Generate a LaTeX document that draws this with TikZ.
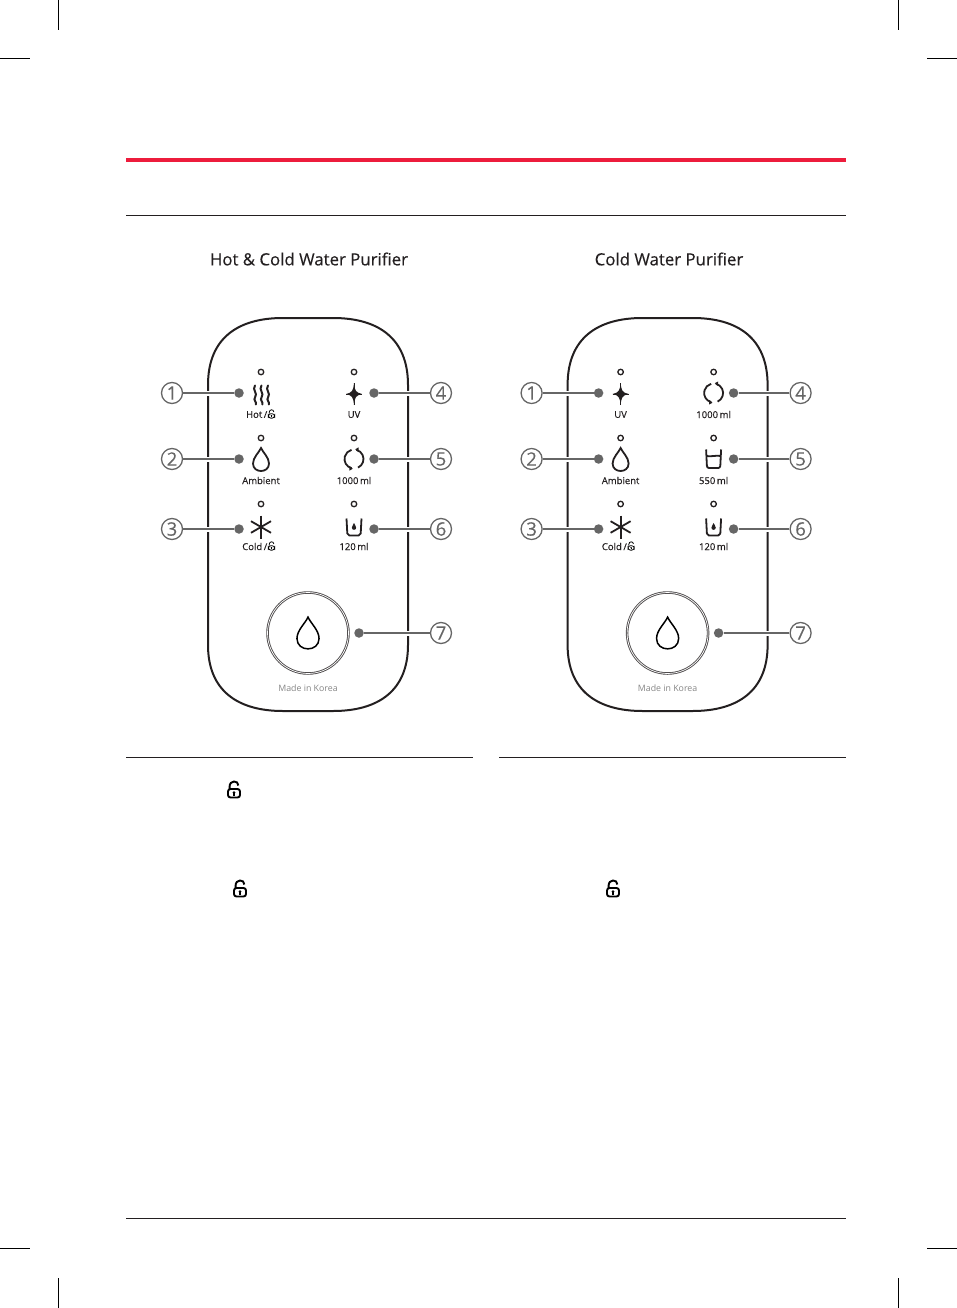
\documentclass[tikz,border=0pt]{standalone}
\usepackage{fontspec}
\setmainfont{Open Sans}
\newfontfamily\heavyfont[FakeBold=0.3]{Open Sans}
\usepackage{xcolor}
\definecolor{inkdark}{HTML}{231F20}
\definecolor{inkgray}{HTML}{666666}
\definecolor{brandred}{HTML}{ED1C3C}
\usetikzlibrary{positioning}

\tikzset{
    pics/dropicon/.style={code={
        \draw (0,-11.5) .. controls (-2,-7) and (-8,-2) .. (-8,4) .. controls (-8,9) and (-4,11.5) .. (0,11.5)
            .. controls (4,11.5) and (8,9) .. (8,4) .. controls (8,-2) and (2,-7) .. (0,-11.5) -- cycle;
    }},
    pics/waveicon/.style={code={
        \foreach \k in {-6.5,0,6.5} {
            \draw[line cap=round] (\k,-9.5) .. controls (\k-3.4,-5) and (\k+3.4,-2) .. (\k,2.5)
                .. controls (\k-2.2,5) and (\k+2.2,7) .. (\k+.8,9.5);
        }
    }},
    pics/uvicon/.style={code={
        \fill (0,-11) .. controls (.8,-3.5) and (1.5,-1.5) .. (8,0) .. controls (1.5,1.5) and (.8,3.5) .. (0,11)
            .. controls (-.8,3.5) and (-1.5,1.5) .. (-8,0) .. controls (-1.5,-1.5) and (-.8,-3.5) .. (0,-11) -- cycle;
        \draw[line width=.9] (0,-11) -- (0,11);
        \draw[line width=.9] (-8,0) -- (8,0);
    }},
    pics/cycleicon/.style={code={
        \draw (0,0) ++(105:9.5) arc[start angle=105, end angle=255, radius=9.5];
        \draw (0,0) ++(65:9.5) arc[start angle=65, end angle=-75, radius=9.5];
        \fill (1.2,-9.8) -- (4.6,-11.6) -- (4.6,-6.9) -- cycle;
        \fill (-1.2,9.8) -- (-4.6,11.6) -- (-4.6,6.9) -- cycle;
    }},
    pics/cupicon/.style={code={
        \draw[rounded corners=2] (-7.5,-9.5) -- (-6.6,9) -- (6.6,9) -- (7.5,-9.5);
        \draw (-7.2,-3) .. controls (-3,-2) and (3,-4) .. (7.2,-3);
    }},
    pics/glassicon/.style={code={
        \draw[rounded corners=2] (-7.5,-8.5) -- (-6.6,8.5) -- (6.6,8.5) -- (7.5,-8.5);
        \fill (0,-4) .. controls (-.6,-2) and (-2.2,-.8) .. (-2.2,.8) .. controls (-2.2,2.2) and (-1,2.8) .. (0,2.8)
            .. controls (1,2.8) and (2.2,2.2) .. (2.2,.8) .. controls (2.2,-.8) and (.6,-2) .. (0,-4) -- cycle;
    }},
    pics/snowicon/.style={code={
        \draw (0,-11.5) -- (0,11.5);
        \draw (-10,-5.8) -- (10,5.8);
        \draw (-10,5.8) -- (10,-5.8);
    }},
    pics/lockicon/.style={code={
        \draw[rounded corners=2.5] (-6,-1.5) rectangle (6,7);
        \draw (-4.4,-1.5) -- (-4.4,-4) .. controls (-4.4,-10.5) and (4.4,-10.5) .. (4.4,-5);
        \fill (0,2.2) circle (1.5);
        \fill (-.7,2.2) rectangle (.7,5);
    }}
}

% One panel outline with its rings, dots and lamps
\newcommand{\panelbase}{
    \draw[outline] (208,385) .. controls (208,338) and (238,318) .. (283,318) -- (333,318)
        .. controls (378,318) and (408,338) .. (408,385) -- (408,645)
        .. controls (408,691) and (378,711) .. (333,711) -- (283,711)
        .. controls (238,711) and (208,691) .. (208,645) -- cycle;

    \node[ring] (n1) at (172,393) {1};
    \node[ring] (n2) at (172,459) {2};
    \node[ring] (n3) at (172,529) {3};
    \node[ring] (n4) at (441,393) {4};
    \node[ring] (n5) at (441,459) {5};
    \node[ring] (n6) at (441,529) {6};
    \node[ring] (n7) at (441,633) {7};

    \node[dotmark] (d1) at (239,393) {};
    \node[dotmark] (d2) at (239,459) {};
    \node[dotmark] (d3) at (239,529) {};
    \node[dotmark] (d4) at (374,393) {};
    \node[dotmark] (d5) at (374,459) {};
    \node[dotmark] (d6) at (374,529) {};
    \node[dotmark] (d7) at (359,633) {};

    \draw[link] (n1) -- (d1);
    \draw[link] (n2) -- (d2);
    \draw[link] (n3) -- (d3);
    \draw[link] (n4) -- (d4);
    \draw[link] (n5) -- (d5);
    \draw[link] (n6) -- (d6);
    \draw[link] (n7) -- (d7);

    \node[lamp] (l1) at (261,372) {};
    \node[lamp] (l2) at (261,438) {};
    \node[lamp] (l3) at (261,504) {};
    \node[lamp] (l4) at (354,372) {};
    \node[lamp] (l5) at (354,438) {};
    \node[lamp] (l6) at (354,504) {};

    \node[button] (btn) at (308,633) {};
    \pic[scale=1.38, line width=1.5] at (308,633) {dropicon};
    \node[madein] (made) at (308,688) {Made in Korea};

    % Left column, same on both
    \pic[icon] at (261,459.5) {dropicon};
    \pic[icon] at (261,527) {snowicon};
    \node[tag] (t2) at (261,480.5) {Ambient};
    \node[tag, anchor=east] (t3) at (267.5,546.5) {Cold\,/};
    \pic[scale=.52, line width=.8] at (271.5,546.5) {lockicon};
}

\begin{document}
\begin{tikzpicture}[
    x=1pt, y=-1pt,
    rule/.style={draw=inkdark, line width=1},
    crop/.style={draw=black, line width=.8},
    outline/.style={draw=inkdark, line width=2},
    ring/.style={circle, draw=inkgray, line width=1.3, minimum size=21, inner sep=0, text=inkgray, font=\heavyfont\fontsize{18.5}{18}\selectfont},
    dotmark/.style={circle, fill=inkgray, minimum size=9.5, inner sep=0},
    link/.style={draw=inkgray, line width=1.5, preaction={draw=white, line width=5}},
    lamp/.style={circle, draw=inkdark, line width=1.3, minimum size=5.5, inner sep=0},
    button/.style={circle, draw=inkdark!80, line width=.9, double=white, double distance=.7, minimum size=81, inner sep=0},
    icon/.style={draw=inkdark, fill=inkdark, line width=1.8},
    tag/.style={text=inkdark, inner sep=0, font=\heavyfont\fontsize{9.5}{10}\selectfont},
    madein/.style={text=black!48, inner sep=0, font=\fontsize{8.8}{10}\selectfont},
    heading/.style={text=inkdark, inner sep=0, font=\heavyfont\fontsize{16.8}{18}\selectfont}
]
\useasboundingbox (0,0) rectangle (957,1308);

% Crop marks :
\draw[crop] (58.5,0) -- (58.5,30);
\draw[crop] (898.5,0) -- (898.5,30);
\draw[crop] (0,58) -- (30,58);
\draw[crop] (927,58) -- (957,58);
\draw[crop] (58.5,1278) -- (58.5,1308);
\draw[crop] (898.5,1278) -- (898.5,1308);
\draw[crop] (0,1248) -- (30,1248);
\draw[crop] (927,1248) -- (957,1248);

% Rules :
\draw[draw=brandred, line width=4] (126,160) -- (846,160);
\draw[rule] (126,215.5) -- (846,215.5);
\draw[rule] (126,757.5) -- (473,757.5);
\draw[rule] (499,757.5) -- (846,757.5);
\draw[rule, line width=.7] (126,1218.5) -- (846,1218.5);

% Titles :
\node[heading] (hotcold) at (309,259) {Hot \& Cold Water Purifier};
\node[heading] (coldonly) at (669,259) {Cold Water Purifier};

% Hot and cold panel :
\begin{scope}[name prefix=a-]
\panelbase
\pic[icon, fill=none, line width=2] at (261.5,395) {waveicon};
\pic[icon] at (354,394) {uvicon};
\pic[icon, fill=none] at (354,459) {cycleicon};
\pic[icon, fill=none] at (354,527) {glassicon};
\node[tag, anchor=east] (t1) at (267.5,414.5) {Hot\,/};
\pic[scale=.52, line width=.8] at (271.5,414.5) {lockicon};
\node[tag] (t4) at (354,414.5) {UV};
\node[tag] (t5) at (354,480.5) {1000\,ml};
\node[tag] (t6) at (354,546.5) {120\,ml};
\end{scope}

% Cold panel :
\begin{scope}[name prefix=b-, xshift=359.6pt]
\panelbase
\pic[icon] at (261,394) {uvicon};
\pic[icon, fill=none] at (354,393) {cycleicon};
\pic[icon, fill=none] at (354,459) {cupicon};
\pic[icon, fill=none] at (354,527) {glassicon};
\node[tag] (t1) at (261,414.5) {UV};
\node[tag] (t4) at (354,414.5) {1000\,ml};
\node[tag] (t5) at (354,480.5) {550\,ml};
\node[tag] (t6) at (354,546.5) {120\,ml};
\end{scope}

% Locks :
\pic[line width=1.9] at (234,790.5) {lockicon};
\pic[line width=1.9] at (240,889.5) {lockicon};
\pic[line width=1.9] at (613,889.5) {lockicon};

\end{tikzpicture}
\end{document}
